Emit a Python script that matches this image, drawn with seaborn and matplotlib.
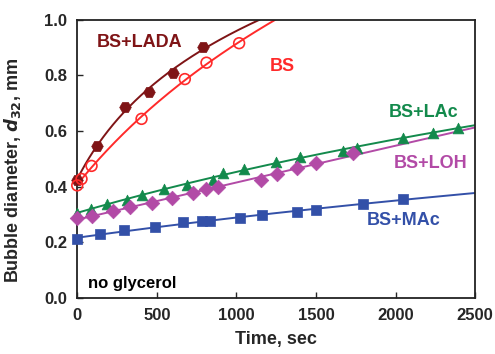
import numpy as np
import pandas as pd
import seaborn as sns
import matplotlib.pyplot as plt

# data: time (sec) and d32 (mm)
t_lada = [0, 122, 302, 450, 599, 787]
d_lada = [0.425, 0.547, 0.688, 0.740, 0.809, 0.904]
t_bs = [0, 27, 90, 404, 676, 812, 1017]
d_bs = [0.405, 0.428, 0.475, 0.644, 0.787, 0.846, 0.916]
t_lac = [0, 84, 188, 314, 404, 544, 691, 854, 917, 1047, 1248, 1399, 1667, 1759, 2048, 2232, 2393]
d_lac = [0.305, 0.321, 0.339, 0.354, 0.372, 0.393, 0.408, 0.423, 0.450, 0.465,
         0.489, 0.507, 0.529, 0.538, 0.577, 0.595, 0.613]
t_loh = [0, 90, 222, 331, 467, 593, 725, 812, 886, 1152, 1252, 1382, 1497, 1734]
d_loh = [0.287, 0.294, 0.313, 0.327, 0.341, 0.360, 0.379, 0.393, 0.399, 0.423,
         0.445, 0.466, 0.485, 0.521]
t_mac = [0, 143, 293, 488, 662, 781, 833, 1024, 1162, 1378, 1499, 1796, 2044]
d_mac = [0.212, 0.229, 0.243, 0.255, 0.272, 0.277, 0.277, 0.289, 0.297, 0.311,
         0.317, 0.339, 0.357]

series = [
    ("BS+LADA", t_lada, d_lada, "#7f1416", "H", True),
    ("BS", t_bs, d_bs, "#ff2a2a", "o", False),
    ("BS+LAc", t_lac, d_lac, "#138a4c", "^", True),
    ("BS+LOH", t_loh, d_loh, "#b24aa6", "D", True),
    ("BS+MAc", t_mac, d_mac, "#3350a8", "s", True),
]


def log_fit(t, d):
    # d = a + b*ln(1 + t/c), c picked by least squares
    t = np.asarray(t, float)
    d = np.asarray(d, float)
    best = None
    for c in np.logspace(1.5, 5, 300):
        X = np.column_stack([np.ones_like(t), np.log1p(t / c)])
        coef, *_ = np.linalg.lstsq(X, d, rcond=None)
        err = np.sum((X @ coef - d) ** 2)
        if best is None or err < best[0]:
            best = (err, c, coef)
    _, c, (a, b) = best
    return lambda x: a + b * np.log1p(x / c)


sns.set_style("ticks")
plt.rcParams['font.family'] = ['Liberation Sans', 'DejaVu Sans']
plt.rcParams['font.weight'] = 'bold'

fig = plt.figure(figsize=(4.95, 3.54), dpi=100)
ax = fig.add_axes([0.156, 0.158, 0.804, 0.786])

grid = np.linspace(0, 2500, 400)
for name, t, d, col, mk, filled in series:
    f = log_fit(t, d)
    fit = pd.DataFrame({"t": grid, "d": f(grid)})
    sns.lineplot(data=fit, x="t", y="d", color=col, lw=1.4, ax=ax)
    pts = pd.DataFrame({"t": t, "d": d})
    ms = {"H": 70, "o": 60, "^": 60, "D": 55, "s": 50}[mk]
    if filled:
        sns.scatterplot(data=pts, x="t", y="d", marker=mk, s=ms, color=col,
                        edgecolor=col, linewidth=0.5, ax=ax, zorder=3, clip_on=False)
    else:
        sns.scatterplot(data=pts, x="t", y="d", marker=mk, s=ms, facecolor="none",
                        edgecolor=col, linewidth=1.2, ax=ax, zorder=3, clip_on=False)

ax.set_xlim(0, 2500)
ax.set_ylim(0, 1.0)
ax.set_xticks([0, 500, 1000, 1500, 2000, 2500])
ax.set_yticks([0.0, 0.2, 0.4, 0.6, 0.8, 1.0])
ax.set_yticklabels(["0.0", "0.2", "0.4", "0.6", "0.8", "1.0"])
ax.tick_params(direction="in", labelsize=12, length=4, width=1, pad=7)
for s in ax.spines.values():
    s.set_linewidth(1.3)
    s.set_color("#222222")

ax.set_xlabel("Time, sec", fontsize=13, fontweight="bold", labelpad=6)
ax.set_ylabel(r"Bubble diameter, $\boldsymbol{d}_{\mathbf{32}}$, mm", fontsize=13,
              fontweight="bold", labelpad=8)
ax.yaxis.set_label_coords(-0.135, 0.46)

ax.text(125, 0.92, "BS+LADA", color="#7f1416", fontsize=13, fontweight="bold", va="center")
ax.text(1210, 0.832, "BS", color="#ff2a2a", fontsize=13, fontweight="bold", va="center")
ax.text(1960, 0.668, "BS+LAc", color="#138a4c", fontsize=13, fontweight="bold", va="center")
ax.text(1990, 0.485, "BS+LOH", color="#b24aa6", fontsize=13, fontweight="bold", va="center")
ax.text(1820, 0.279, "BS+MAc", color="#3350a8", fontsize=13, fontweight="bold", va="center")
ax.text(65, 0.052, "no glycerol", color="black", fontsize=12, fontweight="bold", va="center")

fig.savefig("out.png", dpi=100)
